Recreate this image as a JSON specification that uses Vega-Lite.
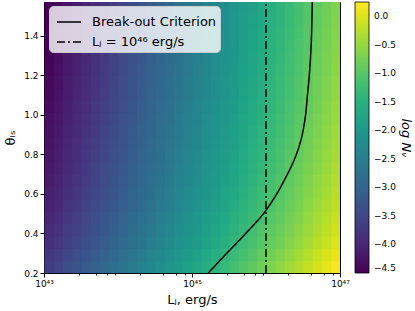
{
"$schema": "https://vega.github.io/schema/vega-lite/v6.json",
"width": 296, "height": 271,
"padding": {"left": 4, "top": 2, "right": 8, "bottom": 2},
"config": {"font": "DejaVu Sans", "view": {"stroke": "black", "strokeWidth": 1}},
"datasets": {
"grid": [
{"L":43,"t":0.2,"v":-3.67},{"L":43.125,"t":0.2,"v":-3.545},{"L":43.25,"t":0.2,"v":-3.42},{"L":43.375,"t":0.2,"v":-3.295},{"L":43.5,"t":0.2,"v":-3.17},{"L":43.625,"t":0.2,"v":-3.045},{"L":43.75,"t":0.2,"v":-2.92},{"L":43.875,"t":0.2,"v":-2.795},{"L":44,"t":0.2,"v":-2.67},{"L":44.125,"t":0.2,"v":-2.545},{"L":44.25,"t":0.2,"v":-2.42},{"L":44.375,"t":0.2,"v":-2.295},{"L":44.5,"t":0.2,"v":-2.17},{"L":44.625,"t":0.2,"v":-2.045},{"L":44.75,"t":0.2,"v":-1.92},{"L":44.875,"t":0.2,"v":-1.795},{"L":45,"t":0.2,"v":-1.67},{"L":45.125,"t":0.2,"v":-1.545},{"L":45.25,"t":0.2,"v":-1.42},{"L":45.375,"t":0.2,"v":-1.295},{"L":45.5,"t":0.2,"v":-1.17},{"L":45.625,"t":0.2,"v":-1.045},{"L":45.75,"t":0.2,"v":-0.92},{"L":45.875,"t":0.2,"v":-0.795},{"L":46,"t":0.2,"v":-0.67},{"L":46.125,"t":0.2,"v":-0.545},{"L":46.25,"t":0.2,"v":-0.42},{"L":46.375,"t":0.2,"v":-0.295},{"L":46.5,"t":0.2,"v":-0.17},{"L":46.625,"t":0.2,"v":-0.045},{"L":46.75,"t":0.2,"v":0.08},{"L":46.875,"t":0.2,"v":0.205},
{"L":43,"t":0.2625,"v":-3.78},{"L":43.125,"t":0.2625,"v":-3.655},{"L":43.25,"t":0.2625,"v":-3.53},{"L":43.375,"t":0.2625,"v":-3.405},{"L":43.5,"t":0.2625,"v":-3.28},{"L":43.625,"t":0.2625,"v":-3.155},{"L":43.75,"t":0.2625,"v":-3.03},{"L":43.875,"t":0.2625,"v":-2.905},{"L":44,"t":0.2625,"v":-2.78},{"L":44.125,"t":0.2625,"v":-2.655},{"L":44.25,"t":0.2625,"v":-2.53},{"L":44.375,"t":0.2625,"v":-2.405},{"L":44.5,"t":0.2625,"v":-2.28},{"L":44.625,"t":0.2625,"v":-2.155},{"L":44.75,"t":0.2625,"v":-2.03},{"L":44.875,"t":0.2625,"v":-1.905},{"L":45,"t":0.2625,"v":-1.78},{"L":45.125,"t":0.2625,"v":-1.655},{"L":45.25,"t":0.2625,"v":-1.53},{"L":45.375,"t":0.2625,"v":-1.405},{"L":45.5,"t":0.2625,"v":-1.28},{"L":45.625,"t":0.2625,"v":-1.155},{"L":45.75,"t":0.2625,"v":-1.03},{"L":45.875,"t":0.2625,"v":-0.905},{"L":46,"t":0.2625,"v":-0.78},{"L":46.125,"t":0.2625,"v":-0.655},{"L":46.25,"t":0.2625,"v":-0.53},{"L":46.375,"t":0.2625,"v":-0.405},{"L":46.5,"t":0.2625,"v":-0.28},{"L":46.625,"t":0.2625,"v":-0.155},{"L":46.75,"t":0.2625,"v":-0.03},{"L":46.875,"t":0.2625,"v":0.095},
{"L":43,"t":0.325,"v":-3.88},{"L":43.125,"t":0.325,"v":-3.755},{"L":43.25,"t":0.325,"v":-3.63},{"L":43.375,"t":0.325,"v":-3.505},{"L":43.5,"t":0.325,"v":-3.38},{"L":43.625,"t":0.325,"v":-3.255},{"L":43.75,"t":0.325,"v":-3.13},{"L":43.875,"t":0.325,"v":-3.005},{"L":44,"t":0.325,"v":-2.88},{"L":44.125,"t":0.325,"v":-2.755},{"L":44.25,"t":0.325,"v":-2.63},{"L":44.375,"t":0.325,"v":-2.505},{"L":44.5,"t":0.325,"v":-2.38},{"L":44.625,"t":0.325,"v":-2.255},{"L":44.75,"t":0.325,"v":-2.13},{"L":44.875,"t":0.325,"v":-2.005},{"L":45,"t":0.325,"v":-1.88},{"L":45.125,"t":0.325,"v":-1.755},{"L":45.25,"t":0.325,"v":-1.63},{"L":45.375,"t":0.325,"v":-1.505},{"L":45.5,"t":0.325,"v":-1.38},{"L":45.625,"t":0.325,"v":-1.255},{"L":45.75,"t":0.325,"v":-1.13},{"L":45.875,"t":0.325,"v":-1.005},{"L":46,"t":0.325,"v":-0.88},{"L":46.125,"t":0.325,"v":-0.755},{"L":46.25,"t":0.325,"v":-0.63},{"L":46.375,"t":0.325,"v":-0.505},{"L":46.5,"t":0.325,"v":-0.38},{"L":46.625,"t":0.325,"v":-0.255},{"L":46.75,"t":0.325,"v":-0.13},{"L":46.875,"t":0.325,"v":-0.005},
{"L":43,"t":0.3875,"v":-3.95},{"L":43.125,"t":0.3875,"v":-3.825},{"L":43.25,"t":0.3875,"v":-3.7},{"L":43.375,"t":0.3875,"v":-3.575},{"L":43.5,"t":0.3875,"v":-3.45},{"L":43.625,"t":0.3875,"v":-3.325},{"L":43.75,"t":0.3875,"v":-3.2},{"L":43.875,"t":0.3875,"v":-3.075},{"L":44,"t":0.3875,"v":-2.95},{"L":44.125,"t":0.3875,"v":-2.825},{"L":44.25,"t":0.3875,"v":-2.7},{"L":44.375,"t":0.3875,"v":-2.575},{"L":44.5,"t":0.3875,"v":-2.45},{"L":44.625,"t":0.3875,"v":-2.325},{"L":44.75,"t":0.3875,"v":-2.2},{"L":44.875,"t":0.3875,"v":-2.075},{"L":45,"t":0.3875,"v":-1.95},{"L":45.125,"t":0.3875,"v":-1.825},{"L":45.25,"t":0.3875,"v":-1.7},{"L":45.375,"t":0.3875,"v":-1.575},{"L":45.5,"t":0.3875,"v":-1.45},{"L":45.625,"t":0.3875,"v":-1.325},{"L":45.75,"t":0.3875,"v":-1.2},{"L":45.875,"t":0.3875,"v":-1.075},{"L":46,"t":0.3875,"v":-0.95},{"L":46.125,"t":0.3875,"v":-0.825},{"L":46.25,"t":0.3875,"v":-0.7},{"L":46.375,"t":0.3875,"v":-0.575},{"L":46.5,"t":0.3875,"v":-0.45},{"L":46.625,"t":0.3875,"v":-0.325},{"L":46.75,"t":0.3875,"v":-0.2},{"L":46.875,"t":0.3875,"v":-0.075},
{"L":43,"t":0.45,"v":-4.02},{"L":43.125,"t":0.45,"v":-3.895},{"L":43.25,"t":0.45,"v":-3.77},{"L":43.375,"t":0.45,"v":-3.645},{"L":43.5,"t":0.45,"v":-3.52},{"L":43.625,"t":0.45,"v":-3.395},{"L":43.75,"t":0.45,"v":-3.27},{"L":43.875,"t":0.45,"v":-3.145},{"L":44,"t":0.45,"v":-3.02},{"L":44.125,"t":0.45,"v":-2.895},{"L":44.25,"t":0.45,"v":-2.77},{"L":44.375,"t":0.45,"v":-2.645},{"L":44.5,"t":0.45,"v":-2.52},{"L":44.625,"t":0.45,"v":-2.395},{"L":44.75,"t":0.45,"v":-2.27},{"L":44.875,"t":0.45,"v":-2.145},{"L":45,"t":0.45,"v":-2.02},{"L":45.125,"t":0.45,"v":-1.895},{"L":45.25,"t":0.45,"v":-1.77},{"L":45.375,"t":0.45,"v":-1.645},{"L":45.5,"t":0.45,"v":-1.52},{"L":45.625,"t":0.45,"v":-1.395},{"L":45.75,"t":0.45,"v":-1.27},{"L":45.875,"t":0.45,"v":-1.145},{"L":46,"t":0.45,"v":-1.02},{"L":46.125,"t":0.45,"v":-0.895},{"L":46.25,"t":0.45,"v":-0.77},{"L":46.375,"t":0.45,"v":-0.645},{"L":46.5,"t":0.45,"v":-0.52},{"L":46.625,"t":0.45,"v":-0.395},{"L":46.75,"t":0.45,"v":-0.27},{"L":46.875,"t":0.45,"v":-0.145},
{"L":43,"t":0.5125,"v":-4.08},{"L":43.125,"t":0.5125,"v":-3.955},{"L":43.25,"t":0.5125,"v":-3.83},{"L":43.375,"t":0.5125,"v":-3.705},{"L":43.5,"t":0.5125,"v":-3.58},{"L":43.625,"t":0.5125,"v":-3.455},{"L":43.75,"t":0.5125,"v":-3.33},{"L":43.875,"t":0.5125,"v":-3.205},{"L":44,"t":0.5125,"v":-3.08},{"L":44.125,"t":0.5125,"v":-2.955},{"L":44.25,"t":0.5125,"v":-2.83},{"L":44.375,"t":0.5125,"v":-2.705},{"L":44.5,"t":0.5125,"v":-2.58},{"L":44.625,"t":0.5125,"v":-2.455},{"L":44.75,"t":0.5125,"v":-2.33},{"L":44.875,"t":0.5125,"v":-2.205},{"L":45,"t":0.5125,"v":-2.08},{"L":45.125,"t":0.5125,"v":-1.955},{"L":45.25,"t":0.5125,"v":-1.83},{"L":45.375,"t":0.5125,"v":-1.705},{"L":45.5,"t":0.5125,"v":-1.58},{"L":45.625,"t":0.5125,"v":-1.455},{"L":45.75,"t":0.5125,"v":-1.33},{"L":45.875,"t":0.5125,"v":-1.205},{"L":46,"t":0.5125,"v":-1.08},{"L":46.125,"t":0.5125,"v":-0.955},{"L":46.25,"t":0.5125,"v":-0.83},{"L":46.375,"t":0.5125,"v":-0.705},{"L":46.5,"t":0.5125,"v":-0.58},{"L":46.625,"t":0.5125,"v":-0.455},{"L":46.75,"t":0.5125,"v":-0.33},{"L":46.875,"t":0.5125,"v":-0.205},
{"L":43,"t":0.575,"v":-4.13},{"L":43.125,"t":0.575,"v":-4.005},{"L":43.25,"t":0.575,"v":-3.88},{"L":43.375,"t":0.575,"v":-3.755},{"L":43.5,"t":0.575,"v":-3.63},{"L":43.625,"t":0.575,"v":-3.505},{"L":43.75,"t":0.575,"v":-3.38},{"L":43.875,"t":0.575,"v":-3.255},{"L":44,"t":0.575,"v":-3.13},{"L":44.125,"t":0.575,"v":-3.005},{"L":44.25,"t":0.575,"v":-2.88},{"L":44.375,"t":0.575,"v":-2.755},{"L":44.5,"t":0.575,"v":-2.63},{"L":44.625,"t":0.575,"v":-2.505},{"L":44.75,"t":0.575,"v":-2.38},{"L":44.875,"t":0.575,"v":-2.255},{"L":45,"t":0.575,"v":-2.13},{"L":45.125,"t":0.575,"v":-2.005},{"L":45.25,"t":0.575,"v":-1.88},{"L":45.375,"t":0.575,"v":-1.755},{"L":45.5,"t":0.575,"v":-1.63},{"L":45.625,"t":0.575,"v":-1.505},{"L":45.75,"t":0.575,"v":-1.38},{"L":45.875,"t":0.575,"v":-1.255},{"L":46,"t":0.575,"v":-1.13},{"L":46.125,"t":0.575,"v":-1.005},{"L":46.25,"t":0.575,"v":-0.88},{"L":46.375,"t":0.575,"v":-0.755},{"L":46.5,"t":0.575,"v":-0.63},{"L":46.625,"t":0.575,"v":-0.505},{"L":46.75,"t":0.575,"v":-0.38},{"L":46.875,"t":0.575,"v":-0.255},
{"L":43,"t":0.6375,"v":-4.17},{"L":43.125,"t":0.6375,"v":-4.045},{"L":43.25,"t":0.6375,"v":-3.92},{"L":43.375,"t":0.6375,"v":-3.795},{"L":43.5,"t":0.6375,"v":-3.67},{"L":43.625,"t":0.6375,"v":-3.545},{"L":43.75,"t":0.6375,"v":-3.42},{"L":43.875,"t":0.6375,"v":-3.295},{"L":44,"t":0.6375,"v":-3.17},{"L":44.125,"t":0.6375,"v":-3.045},{"L":44.25,"t":0.6375,"v":-2.92},{"L":44.375,"t":0.6375,"v":-2.795},{"L":44.5,"t":0.6375,"v":-2.67},{"L":44.625,"t":0.6375,"v":-2.545},{"L":44.75,"t":0.6375,"v":-2.42},{"L":44.875,"t":0.6375,"v":-2.295},{"L":45,"t":0.6375,"v":-2.17},{"L":45.125,"t":0.6375,"v":-2.045},{"L":45.25,"t":0.6375,"v":-1.92},{"L":45.375,"t":0.6375,"v":-1.795},{"L":45.5,"t":0.6375,"v":-1.67},{"L":45.625,"t":0.6375,"v":-1.545},{"L":45.75,"t":0.6375,"v":-1.42},{"L":45.875,"t":0.6375,"v":-1.295},{"L":46,"t":0.6375,"v":-1.17},{"L":46.125,"t":0.6375,"v":-1.045},{"L":46.25,"t":0.6375,"v":-0.92},{"L":46.375,"t":0.6375,"v":-0.795},{"L":46.5,"t":0.6375,"v":-0.67},{"L":46.625,"t":0.6375,"v":-0.545},{"L":46.75,"t":0.6375,"v":-0.42},{"L":46.875,"t":0.6375,"v":-0.295},
{"L":43,"t":0.7,"v":-4.21},{"L":43.125,"t":0.7,"v":-4.085},{"L":43.25,"t":0.7,"v":-3.96},{"L":43.375,"t":0.7,"v":-3.835},{"L":43.5,"t":0.7,"v":-3.71},{"L":43.625,"t":0.7,"v":-3.585},{"L":43.75,"t":0.7,"v":-3.46},{"L":43.875,"t":0.7,"v":-3.335},{"L":44,"t":0.7,"v":-3.21},{"L":44.125,"t":0.7,"v":-3.085},{"L":44.25,"t":0.7,"v":-2.96},{"L":44.375,"t":0.7,"v":-2.835},{"L":44.5,"t":0.7,"v":-2.71},{"L":44.625,"t":0.7,"v":-2.585},{"L":44.75,"t":0.7,"v":-2.46},{"L":44.875,"t":0.7,"v":-2.335},{"L":45,"t":0.7,"v":-2.21},{"L":45.125,"t":0.7,"v":-2.085},{"L":45.25,"t":0.7,"v":-1.96},{"L":45.375,"t":0.7,"v":-1.835},{"L":45.5,"t":0.7,"v":-1.71},{"L":45.625,"t":0.7,"v":-1.585},{"L":45.75,"t":0.7,"v":-1.46},{"L":45.875,"t":0.7,"v":-1.335},{"L":46,"t":0.7,"v":-1.21},{"L":46.125,"t":0.7,"v":-1.085},{"L":46.25,"t":0.7,"v":-0.96},{"L":46.375,"t":0.7,"v":-0.835},{"L":46.5,"t":0.7,"v":-0.71},{"L":46.625,"t":0.7,"v":-0.585},{"L":46.75,"t":0.7,"v":-0.46},{"L":46.875,"t":0.7,"v":-0.335},
{"L":43,"t":0.7625,"v":-4.25},{"L":43.125,"t":0.7625,"v":-4.125},{"L":43.25,"t":0.7625,"v":-4.0},{"L":43.375,"t":0.7625,"v":-3.875},{"L":43.5,"t":0.7625,"v":-3.75},{"L":43.625,"t":0.7625,"v":-3.625},{"L":43.75,"t":0.7625,"v":-3.5},{"L":43.875,"t":0.7625,"v":-3.375},{"L":44,"t":0.7625,"v":-3.25},{"L":44.125,"t":0.7625,"v":-3.125},{"L":44.25,"t":0.7625,"v":-3.0},{"L":44.375,"t":0.7625,"v":-2.875},{"L":44.5,"t":0.7625,"v":-2.75},{"L":44.625,"t":0.7625,"v":-2.625},{"L":44.75,"t":0.7625,"v":-2.5},{"L":44.875,"t":0.7625,"v":-2.375},{"L":45,"t":0.7625,"v":-2.25},{"L":45.125,"t":0.7625,"v":-2.125},{"L":45.25,"t":0.7625,"v":-2.0},{"L":45.375,"t":0.7625,"v":-1.875},{"L":45.5,"t":0.7625,"v":-1.75},{"L":45.625,"t":0.7625,"v":-1.625},{"L":45.75,"t":0.7625,"v":-1.5},{"L":45.875,"t":0.7625,"v":-1.375},{"L":46,"t":0.7625,"v":-1.25},{"L":46.125,"t":0.7625,"v":-1.125},{"L":46.25,"t":0.7625,"v":-1.0},{"L":46.375,"t":0.7625,"v":-0.875},{"L":46.5,"t":0.7625,"v":-0.75},{"L":46.625,"t":0.7625,"v":-0.625},{"L":46.75,"t":0.7625,"v":-0.5},{"L":46.875,"t":0.7625,"v":-0.375},
{"L":43,"t":0.825,"v":-4.28},{"L":43.125,"t":0.825,"v":-4.155},{"L":43.25,"t":0.825,"v":-4.03},{"L":43.375,"t":0.825,"v":-3.905},{"L":43.5,"t":0.825,"v":-3.78},{"L":43.625,"t":0.825,"v":-3.655},{"L":43.75,"t":0.825,"v":-3.53},{"L":43.875,"t":0.825,"v":-3.405},{"L":44,"t":0.825,"v":-3.28},{"L":44.125,"t":0.825,"v":-3.155},{"L":44.25,"t":0.825,"v":-3.03},{"L":44.375,"t":0.825,"v":-2.905},{"L":44.5,"t":0.825,"v":-2.78},{"L":44.625,"t":0.825,"v":-2.655},{"L":44.75,"t":0.825,"v":-2.53},{"L":44.875,"t":0.825,"v":-2.405},{"L":45,"t":0.825,"v":-2.28},{"L":45.125,"t":0.825,"v":-2.155},{"L":45.25,"t":0.825,"v":-2.03},{"L":45.375,"t":0.825,"v":-1.905},{"L":45.5,"t":0.825,"v":-1.78},{"L":45.625,"t":0.825,"v":-1.655},{"L":45.75,"t":0.825,"v":-1.53},{"L":45.875,"t":0.825,"v":-1.405},{"L":46,"t":0.825,"v":-1.28},{"L":46.125,"t":0.825,"v":-1.155},{"L":46.25,"t":0.825,"v":-1.03},{"L":46.375,"t":0.825,"v":-0.905},{"L":46.5,"t":0.825,"v":-0.78},{"L":46.625,"t":0.825,"v":-0.655},{"L":46.75,"t":0.825,"v":-0.53},{"L":46.875,"t":0.825,"v":-0.405},
{"L":43,"t":0.8875,"v":-4.31},{"L":43.125,"t":0.8875,"v":-4.185},{"L":43.25,"t":0.8875,"v":-4.06},{"L":43.375,"t":0.8875,"v":-3.935},{"L":43.5,"t":0.8875,"v":-3.81},{"L":43.625,"t":0.8875,"v":-3.685},{"L":43.75,"t":0.8875,"v":-3.56},{"L":43.875,"t":0.8875,"v":-3.435},{"L":44,"t":0.8875,"v":-3.31},{"L":44.125,"t":0.8875,"v":-3.185},{"L":44.25,"t":0.8875,"v":-3.06},{"L":44.375,"t":0.8875,"v":-2.935},{"L":44.5,"t":0.8875,"v":-2.81},{"L":44.625,"t":0.8875,"v":-2.685},{"L":44.75,"t":0.8875,"v":-2.56},{"L":44.875,"t":0.8875,"v":-2.435},{"L":45,"t":0.8875,"v":-2.31},{"L":45.125,"t":0.8875,"v":-2.185},{"L":45.25,"t":0.8875,"v":-2.06},{"L":45.375,"t":0.8875,"v":-1.935},{"L":45.5,"t":0.8875,"v":-1.81},{"L":45.625,"t":0.8875,"v":-1.685},{"L":45.75,"t":0.8875,"v":-1.56},{"L":45.875,"t":0.8875,"v":-1.435},{"L":46,"t":0.8875,"v":-1.31},{"L":46.125,"t":0.8875,"v":-1.185},{"L":46.25,"t":0.8875,"v":-1.06},{"L":46.375,"t":0.8875,"v":-0.935},{"L":46.5,"t":0.8875,"v":-0.81},{"L":46.625,"t":0.8875,"v":-0.685},{"L":46.75,"t":0.8875,"v":-0.56},{"L":46.875,"t":0.8875,"v":-0.435},
{"L":43,"t":0.95,"v":-4.34},{"L":43.125,"t":0.95,"v":-4.215},{"L":43.25,"t":0.95,"v":-4.09},{"L":43.375,"t":0.95,"v":-3.965},{"L":43.5,"t":0.95,"v":-3.84},{"L":43.625,"t":0.95,"v":-3.715},{"L":43.75,"t":0.95,"v":-3.59},{"L":43.875,"t":0.95,"v":-3.465},{"L":44,"t":0.95,"v":-3.34},{"L":44.125,"t":0.95,"v":-3.215},{"L":44.25,"t":0.95,"v":-3.09},{"L":44.375,"t":0.95,"v":-2.965},{"L":44.5,"t":0.95,"v":-2.84},{"L":44.625,"t":0.95,"v":-2.715},{"L":44.75,"t":0.95,"v":-2.59},{"L":44.875,"t":0.95,"v":-2.465},{"L":45,"t":0.95,"v":-2.34},{"L":45.125,"t":0.95,"v":-2.215},{"L":45.25,"t":0.95,"v":-2.09},{"L":45.375,"t":0.95,"v":-1.965},{"L":45.5,"t":0.95,"v":-1.84},{"L":45.625,"t":0.95,"v":-1.715},{"L":45.75,"t":0.95,"v":-1.59},{"L":45.875,"t":0.95,"v":-1.465},{"L":46,"t":0.95,"v":-1.34},{"L":46.125,"t":0.95,"v":-1.215},{"L":46.25,"t":0.95,"v":-1.09},{"L":46.375,"t":0.95,"v":-0.965},{"L":46.5,"t":0.95,"v":-0.84},{"L":46.625,"t":0.95,"v":-0.715},{"L":46.75,"t":0.95,"v":-0.59},{"L":46.875,"t":0.95,"v":-0.465},
{"L":43,"t":1.0125,"v":-4.37},{"L":43.125,"t":1.0125,"v":-4.245},{"L":43.25,"t":1.0125,"v":-4.12},{"L":43.375,"t":1.0125,"v":-3.995},{"L":43.5,"t":1.0125,"v":-3.87},{"L":43.625,"t":1.0125,"v":-3.745},{"L":43.75,"t":1.0125,"v":-3.62},{"L":43.875,"t":1.0125,"v":-3.495},{"L":44,"t":1.0125,"v":-3.37},{"L":44.125,"t":1.0125,"v":-3.245},{"L":44.25,"t":1.0125,"v":-3.12},{"L":44.375,"t":1.0125,"v":-2.995},{"L":44.5,"t":1.0125,"v":-2.87},{"L":44.625,"t":1.0125,"v":-2.745},{"L":44.75,"t":1.0125,"v":-2.62},{"L":44.875,"t":1.0125,"v":-2.495},{"L":45,"t":1.0125,"v":-2.37},{"L":45.125,"t":1.0125,"v":-2.245},{"L":45.25,"t":1.0125,"v":-2.12},{"L":45.375,"t":1.0125,"v":-1.995},{"L":45.5,"t":1.0125,"v":-1.87},{"L":45.625,"t":1.0125,"v":-1.745},{"L":45.75,"t":1.0125,"v":-1.62},{"L":45.875,"t":1.0125,"v":-1.495},{"L":46,"t":1.0125,"v":-1.37},{"L":46.125,"t":1.0125,"v":-1.245},{"L":46.25,"t":1.0125,"v":-1.12},{"L":46.375,"t":1.0125,"v":-0.995},{"L":46.5,"t":1.0125,"v":-0.87},{"L":46.625,"t":1.0125,"v":-0.745},{"L":46.75,"t":1.0125,"v":-0.62},{"L":46.875,"t":1.0125,"v":-0.495},
{"L":43,"t":1.075,"v":-4.4},{"L":43.125,"t":1.075,"v":-4.275},{"L":43.25,"t":1.075,"v":-4.15},{"L":43.375,"t":1.075,"v":-4.025},{"L":43.5,"t":1.075,"v":-3.9},{"L":43.625,"t":1.075,"v":-3.775},{"L":43.75,"t":1.075,"v":-3.65},{"L":43.875,"t":1.075,"v":-3.525},{"L":44,"t":1.075,"v":-3.4},{"L":44.125,"t":1.075,"v":-3.275},{"L":44.25,"t":1.075,"v":-3.15},{"L":44.375,"t":1.075,"v":-3.025},{"L":44.5,"t":1.075,"v":-2.9},{"L":44.625,"t":1.075,"v":-2.775},{"L":44.75,"t":1.075,"v":-2.65},{"L":44.875,"t":1.075,"v":-2.525},{"L":45,"t":1.075,"v":-2.4},{"L":45.125,"t":1.075,"v":-2.275},{"L":45.25,"t":1.075,"v":-2.15},{"L":45.375,"t":1.075,"v":-2.025},{"L":45.5,"t":1.075,"v":-1.9},{"L":45.625,"t":1.075,"v":-1.775},{"L":45.75,"t":1.075,"v":-1.65},{"L":45.875,"t":1.075,"v":-1.525},{"L":46,"t":1.075,"v":-1.4},{"L":46.125,"t":1.075,"v":-1.275},{"L":46.25,"t":1.075,"v":-1.15},{"L":46.375,"t":1.075,"v":-1.025},{"L":46.5,"t":1.075,"v":-0.9},{"L":46.625,"t":1.075,"v":-0.775},{"L":46.75,"t":1.075,"v":-0.65},{"L":46.875,"t":1.075,"v":-0.525},
{"L":43,"t":1.1375,"v":-4.42},{"L":43.125,"t":1.1375,"v":-4.295},{"L":43.25,"t":1.1375,"v":-4.17},{"L":43.375,"t":1.1375,"v":-4.045},{"L":43.5,"t":1.1375,"v":-3.92},{"L":43.625,"t":1.1375,"v":-3.795},{"L":43.75,"t":1.1375,"v":-3.67},{"L":43.875,"t":1.1375,"v":-3.545},{"L":44,"t":1.1375,"v":-3.42},{"L":44.125,"t":1.1375,"v":-3.295},{"L":44.25,"t":1.1375,"v":-3.17},{"L":44.375,"t":1.1375,"v":-3.045},{"L":44.5,"t":1.1375,"v":-2.92},{"L":44.625,"t":1.1375,"v":-2.795},{"L":44.75,"t":1.1375,"v":-2.67},{"L":44.875,"t":1.1375,"v":-2.545},{"L":45,"t":1.1375,"v":-2.42},{"L":45.125,"t":1.1375,"v":-2.295},{"L":45.25,"t":1.1375,"v":-2.17},{"L":45.375,"t":1.1375,"v":-2.045},{"L":45.5,"t":1.1375,"v":-1.92},{"L":45.625,"t":1.1375,"v":-1.795},{"L":45.75,"t":1.1375,"v":-1.67},{"L":45.875,"t":1.1375,"v":-1.545},{"L":46,"t":1.1375,"v":-1.42},{"L":46.125,"t":1.1375,"v":-1.295},{"L":46.25,"t":1.1375,"v":-1.17},{"L":46.375,"t":1.1375,"v":-1.045},{"L":46.5,"t":1.1375,"v":-0.92},{"L":46.625,"t":1.1375,"v":-0.795},{"L":46.75,"t":1.1375,"v":-0.67},{"L":46.875,"t":1.1375,"v":-0.545},
{"L":43,"t":1.2,"v":-4.44},{"L":43.125,"t":1.2,"v":-4.315},{"L":43.25,"t":1.2,"v":-4.19},{"L":43.375,"t":1.2,"v":-4.065},{"L":43.5,"t":1.2,"v":-3.94},{"L":43.625,"t":1.2,"v":-3.815},{"L":43.75,"t":1.2,"v":-3.69},{"L":43.875,"t":1.2,"v":-3.565},{"L":44,"t":1.2,"v":-3.44},{"L":44.125,"t":1.2,"v":-3.315},{"L":44.25,"t":1.2,"v":-3.19},{"L":44.375,"t":1.2,"v":-3.065},{"L":44.5,"t":1.2,"v":-2.94},{"L":44.625,"t":1.2,"v":-2.815},{"L":44.75,"t":1.2,"v":-2.69},{"L":44.875,"t":1.2,"v":-2.565},{"L":45,"t":1.2,"v":-2.44},{"L":45.125,"t":1.2,"v":-2.315},{"L":45.25,"t":1.2,"v":-2.19},{"L":45.375,"t":1.2,"v":-2.065},{"L":45.5,"t":1.2,"v":-1.94},{"L":45.625,"t":1.2,"v":-1.815},{"L":45.75,"t":1.2,"v":-1.69},{"L":45.875,"t":1.2,"v":-1.565},{"L":46,"t":1.2,"v":-1.44},{"L":46.125,"t":1.2,"v":-1.315},{"L":46.25,"t":1.2,"v":-1.19},{"L":46.375,"t":1.2,"v":-1.065},{"L":46.5,"t":1.2,"v":-0.94},{"L":46.625,"t":1.2,"v":-0.815},{"L":46.75,"t":1.2,"v":-0.69},{"L":46.875,"t":1.2,"v":-0.565},
{"L":43,"t":1.2625,"v":-4.46},{"L":43.125,"t":1.2625,"v":-4.335},{"L":43.25,"t":1.2625,"v":-4.21},{"L":43.375,"t":1.2625,"v":-4.085},{"L":43.5,"t":1.2625,"v":-3.96},{"L":43.625,"t":1.2625,"v":-3.835},{"L":43.75,"t":1.2625,"v":-3.71},{"L":43.875,"t":1.2625,"v":-3.585},{"L":44,"t":1.2625,"v":-3.46},{"L":44.125,"t":1.2625,"v":-3.335},{"L":44.25,"t":1.2625,"v":-3.21},{"L":44.375,"t":1.2625,"v":-3.085},{"L":44.5,"t":1.2625,"v":-2.96},{"L":44.625,"t":1.2625,"v":-2.835},{"L":44.75,"t":1.2625,"v":-2.71},{"L":44.875,"t":1.2625,"v":-2.585},{"L":45,"t":1.2625,"v":-2.46},{"L":45.125,"t":1.2625,"v":-2.335},{"L":45.25,"t":1.2625,"v":-2.21},{"L":45.375,"t":1.2625,"v":-2.085},{"L":45.5,"t":1.2625,"v":-1.96},{"L":45.625,"t":1.2625,"v":-1.835},{"L":45.75,"t":1.2625,"v":-1.71},{"L":45.875,"t":1.2625,"v":-1.585},{"L":46,"t":1.2625,"v":-1.46},{"L":46.125,"t":1.2625,"v":-1.335},{"L":46.25,"t":1.2625,"v":-1.21},{"L":46.375,"t":1.2625,"v":-1.085},{"L":46.5,"t":1.2625,"v":-0.96},{"L":46.625,"t":1.2625,"v":-0.835},{"L":46.75,"t":1.2625,"v":-0.71},{"L":46.875,"t":1.2625,"v":-0.585},
{"L":43,"t":1.325,"v":-4.48},{"L":43.125,"t":1.325,"v":-4.355},{"L":43.25,"t":1.325,"v":-4.23},{"L":43.375,"t":1.325,"v":-4.105},{"L":43.5,"t":1.325,"v":-3.98},{"L":43.625,"t":1.325,"v":-3.855},{"L":43.75,"t":1.325,"v":-3.73},{"L":43.875,"t":1.325,"v":-3.605},{"L":44,"t":1.325,"v":-3.48},{"L":44.125,"t":1.325,"v":-3.355},{"L":44.25,"t":1.325,"v":-3.23},{"L":44.375,"t":1.325,"v":-3.105},{"L":44.5,"t":1.325,"v":-2.98},{"L":44.625,"t":1.325,"v":-2.855},{"L":44.75,"t":1.325,"v":-2.73},{"L":44.875,"t":1.325,"v":-2.605},{"L":45,"t":1.325,"v":-2.48},{"L":45.125,"t":1.325,"v":-2.355},{"L":45.25,"t":1.325,"v":-2.23},{"L":45.375,"t":1.325,"v":-2.105},{"L":45.5,"t":1.325,"v":-1.98},{"L":45.625,"t":1.325,"v":-1.855},{"L":45.75,"t":1.325,"v":-1.73},{"L":45.875,"t":1.325,"v":-1.605},{"L":46,"t":1.325,"v":-1.48},{"L":46.125,"t":1.325,"v":-1.355},{"L":46.25,"t":1.325,"v":-1.23},{"L":46.375,"t":1.325,"v":-1.105},{"L":46.5,"t":1.325,"v":-0.98},{"L":46.625,"t":1.325,"v":-0.855},{"L":46.75,"t":1.325,"v":-0.73},{"L":46.875,"t":1.325,"v":-0.605},
{"L":43,"t":1.3875,"v":-4.5},{"L":43.125,"t":1.3875,"v":-4.375},{"L":43.25,"t":1.3875,"v":-4.25},{"L":43.375,"t":1.3875,"v":-4.125},{"L":43.5,"t":1.3875,"v":-4.0},{"L":43.625,"t":1.3875,"v":-3.875},{"L":43.75,"t":1.3875,"v":-3.75},{"L":43.875,"t":1.3875,"v":-3.625},{"L":44,"t":1.3875,"v":-3.5},{"L":44.125,"t":1.3875,"v":-3.375},{"L":44.25,"t":1.3875,"v":-3.25},{"L":44.375,"t":1.3875,"v":-3.125},{"L":44.5,"t":1.3875,"v":-3.0},{"L":44.625,"t":1.3875,"v":-2.875},{"L":44.75,"t":1.3875,"v":-2.75},{"L":44.875,"t":1.3875,"v":-2.625},{"L":45,"t":1.3875,"v":-2.5},{"L":45.125,"t":1.3875,"v":-2.375},{"L":45.25,"t":1.3875,"v":-2.25},{"L":45.375,"t":1.3875,"v":-2.125},{"L":45.5,"t":1.3875,"v":-2.0},{"L":45.625,"t":1.3875,"v":-1.875},{"L":45.75,"t":1.3875,"v":-1.75},{"L":45.875,"t":1.3875,"v":-1.625},{"L":46,"t":1.3875,"v":-1.5},{"L":46.125,"t":1.3875,"v":-1.375},{"L":46.25,"t":1.3875,"v":-1.25},{"L":46.375,"t":1.3875,"v":-1.125},{"L":46.5,"t":1.3875,"v":-1.0},{"L":46.625,"t":1.3875,"v":-0.875},{"L":46.75,"t":1.3875,"v":-0.75},{"L":46.875,"t":1.3875,"v":-0.625},
{"L":43,"t":1.45,"v":-4.52},{"L":43.125,"t":1.45,"v":-4.395},{"L":43.25,"t":1.45,"v":-4.27},{"L":43.375,"t":1.45,"v":-4.145},{"L":43.5,"t":1.45,"v":-4.02},{"L":43.625,"t":1.45,"v":-3.895},{"L":43.75,"t":1.45,"v":-3.77},{"L":43.875,"t":1.45,"v":-3.645},{"L":44,"t":1.45,"v":-3.52},{"L":44.125,"t":1.45,"v":-3.395},{"L":44.25,"t":1.45,"v":-3.27},{"L":44.375,"t":1.45,"v":-3.145},{"L":44.5,"t":1.45,"v":-3.02},{"L":44.625,"t":1.45,"v":-2.895},{"L":44.75,"t":1.45,"v":-2.77},{"L":44.875,"t":1.45,"v":-2.645},{"L":45,"t":1.45,"v":-2.52},{"L":45.125,"t":1.45,"v":-2.395},{"L":45.25,"t":1.45,"v":-2.27},{"L":45.375,"t":1.45,"v":-2.145},{"L":45.5,"t":1.45,"v":-2.02},{"L":45.625,"t":1.45,"v":-1.895},{"L":45.75,"t":1.45,"v":-1.77},{"L":45.875,"t":1.45,"v":-1.645},{"L":46,"t":1.45,"v":-1.52},{"L":46.125,"t":1.45,"v":-1.395},{"L":46.25,"t":1.45,"v":-1.27},{"L":46.375,"t":1.45,"v":-1.145},{"L":46.5,"t":1.45,"v":-1.02},{"L":46.625,"t":1.45,"v":-0.895},{"L":46.75,"t":1.45,"v":-0.77},{"L":46.875,"t":1.45,"v":-0.645},
{"L":43,"t":1.5125,"v":-4.53},{"L":43.125,"t":1.5125,"v":-4.405},{"L":43.25,"t":1.5125,"v":-4.28},{"L":43.375,"t":1.5125,"v":-4.155},{"L":43.5,"t":1.5125,"v":-4.03},{"L":43.625,"t":1.5125,"v":-3.905},{"L":43.75,"t":1.5125,"v":-3.78},{"L":43.875,"t":1.5125,"v":-3.655},{"L":44,"t":1.5125,"v":-3.53},{"L":44.125,"t":1.5125,"v":-3.405},{"L":44.25,"t":1.5125,"v":-3.28},{"L":44.375,"t":1.5125,"v":-3.155},{"L":44.5,"t":1.5125,"v":-3.03},{"L":44.625,"t":1.5125,"v":-2.905},{"L":44.75,"t":1.5125,"v":-2.78},{"L":44.875,"t":1.5125,"v":-2.655},{"L":45,"t":1.5125,"v":-2.53},{"L":45.125,"t":1.5125,"v":-2.405},{"L":45.25,"t":1.5125,"v":-2.28},{"L":45.375,"t":1.5125,"v":-2.155},{"L":45.5,"t":1.5125,"v":-2.03},{"L":45.625,"t":1.5125,"v":-1.905},{"L":45.75,"t":1.5125,"v":-1.78},{"L":45.875,"t":1.5125,"v":-1.655},{"L":46,"t":1.5125,"v":-1.53},{"L":46.125,"t":1.5125,"v":-1.405},{"L":46.25,"t":1.5125,"v":-1.28},{"L":46.375,"t":1.5125,"v":-1.155},{"L":46.5,"t":1.5125,"v":-1.03},{"L":46.625,"t":1.5125,"v":-0.905},{"L":46.75,"t":1.5125,"v":-0.78},{"L":46.875,"t":1.5125,"v":-0.655}
],
"curves": [
{"s":"Break-out Criterion","L":45.22,"t":0.2},{"s":"Break-out Criterion","L":45.345,"t":0.25},{"s":"Break-out Criterion","L":45.47,"t":0.3},{"s":"Break-out Criterion","L":45.6,"t":0.35},{"s":"Break-out Criterion","L":45.725,"t":0.4},{"s":"Break-out Criterion","L":45.85,"t":0.45},{"s":"Break-out Criterion","L":45.965,"t":0.5},{"s":"Break-out Criterion","L":46.06,"t":0.55},{"s":"Break-out Criterion","L":46.145,"t":0.6},{"s":"Break-out Criterion","L":46.22,"t":0.65},{"s":"Break-out Criterion","L":46.29,"t":0.7},{"s":"Break-out Criterion","L":46.355,"t":0.75},{"s":"Break-out Criterion","L":46.41,"t":0.8},{"s":"Break-out Criterion","L":46.455,"t":0.85},{"s":"Break-out Criterion","L":46.49,"t":0.9},{"s":"Break-out Criterion","L":46.515,"t":0.95},{"s":"Break-out Criterion","L":46.535,"t":1.0},{"s":"Break-out Criterion","L":46.56,"t":1.1},{"s":"Break-out Criterion","L":46.585,"t":1.2},{"s":"Break-out Criterion","L":46.603,"t":1.3},{"s":"Break-out Criterion","L":46.615,"t":1.4},{"s":"Break-out Criterion","L":46.626,"t":1.5708},
{"s":"Lⱼ = 10⁴⁶ erg/s","L":46,"t":0.2},{"s":"Lⱼ = 10⁴⁶ erg/s","L":46,"t":1.5708}
]
},
"layer": [
{"data": {"name": "grid"},
 "mark": {"type": "rect", "clip": true, "binSpacing": 0},
 "encoding": {
  "x": {"field": "L", "type": "quantitative", "bin": {"binned": true, "step": 0.135},
        "scale": {"domain": [43, 47], "nice": false, "zero": false},
        "title": "Lⱼ,  erg/s",
        "axis": {"values": [43,43.30103,43.47712,43.60206,43.69897,43.77815,43.8451,43.90309,43.95424,44,44.30103,44.47712,44.60206,44.69897,44.77815,44.8451,44.90309,44.95424,45,45.30103,45.47712,45.60206,45.69897,45.77815,45.8451,45.90309,45.95424,46,46.30103,46.47712,46.60206,46.69897,46.77815,46.8451,46.90309,46.95424,47],
                 "labelExpr": "abs(datum.value - round(datum.value)) < 0.001 ? '10' + ['⁴³','⁴⁴','⁴⁵','⁴⁶','⁴⁷'][round(datum.value) - 43] : ''",
                 "tickSize": {"condition": {"test": "abs(datum.value - round(datum.value)) < 0.001", "value": 4}, "value": 2},
                 "labelFontSize": 9, "labelColor": "black", "tickColor": "black", "domain": false, "grid": false,
                 "labelPadding": 2, "labelOverlap": false, "labelFlush": false, "titleFontSize": 13, "titleFontWeight": "normal", "titleColor": "black", "titlePadding": 5}},
  "y": {"field": "t", "type": "quantitative", "bin": {"binned": true, "step": 0.067},
        "scale": {"domain": [0.2, 1.5708], "nice": false, "zero": false},
        "title": "θₗₛ",
        "axis": {"values": [0.2,0.4,0.6,0.8,1.0,1.2,1.4], "format": ".1f", "tickSize": 4,
                 "labelFontSize": 9, "labelColor": "black", "tickColor": "black", "domain": false, "grid": false,
                 "labelPadding": 2, "titleFontSize": 13, "titleFontWeight": "normal", "titleColor": "black", "titlePadding": 6}},
  "color": {"field": "v", "type": "quantitative",
        "scale": {"scheme": "viridis", "domain": [-4.5, 0.25], "clamp": true, "nice": false, "zero": false},
        "title": "log Nᵥ",
        "legend": {"orient": "right", "direction": "vertical", "gradientLength": 271, "gradientThickness": 14,
                   "values": [-4.5,-4,-3.5,-3,-2.5,-2,-1.5,-1,-0.5,0], "format": ".1f",
                   "labelFontSize": 9, "labelColor": "black", "labelOffset": 5,
                   "gradientStrokeColor": "black", "gradientStrokeWidth": 0.8,
                   "titleOrient": "right", "titleAngle": 270, "titleAnchor": "middle", "titleFontSize": 13, "titlePadding": 3,
                   "titleFontStyle": "italic", "titleFontWeight": "normal", "titleColor": "black", "offset": 15, "padding": 0}}
 }},
{"data": {"name": "curves"},
 "mark": {"type": "line", "color": "black", "strokeWidth": 1.5, "clip": true, "interpolate": "monotone"},
 "encoding": {
  "x": {"field": "L", "type": "quantitative"},
  "y": {"field": "t", "type": "quantitative"},
  "order": {"field": "t", "type": "quantitative"},
  "strokeDash": {"field": "s", "type": "nominal",
        "scale": {"domain": ["Break-out Criterion", "Lⱼ = 10⁴⁶ erg/s"], "range": [[1, 0], [8, 3, 2, 3]]},
        "legend": {"title": null, "orient": "none", "legendX": 5, "legendY": 4, "fillColor": "rgba(255,255,255,0.8)",
                   "strokeColor": "#cccccc", "cornerRadius": 4, "padding": 3, "labelFontSize": 13, "labelColor": "black",
                   "symbolType": "stroke", "symbolStrokeWidth": 1.5, "symbolStrokeColor": "black", "symbolSize": 576,
                   "symbolOffset": 4, "rowPadding": 0, "labelOffset": 10}}
 }}
]
}
